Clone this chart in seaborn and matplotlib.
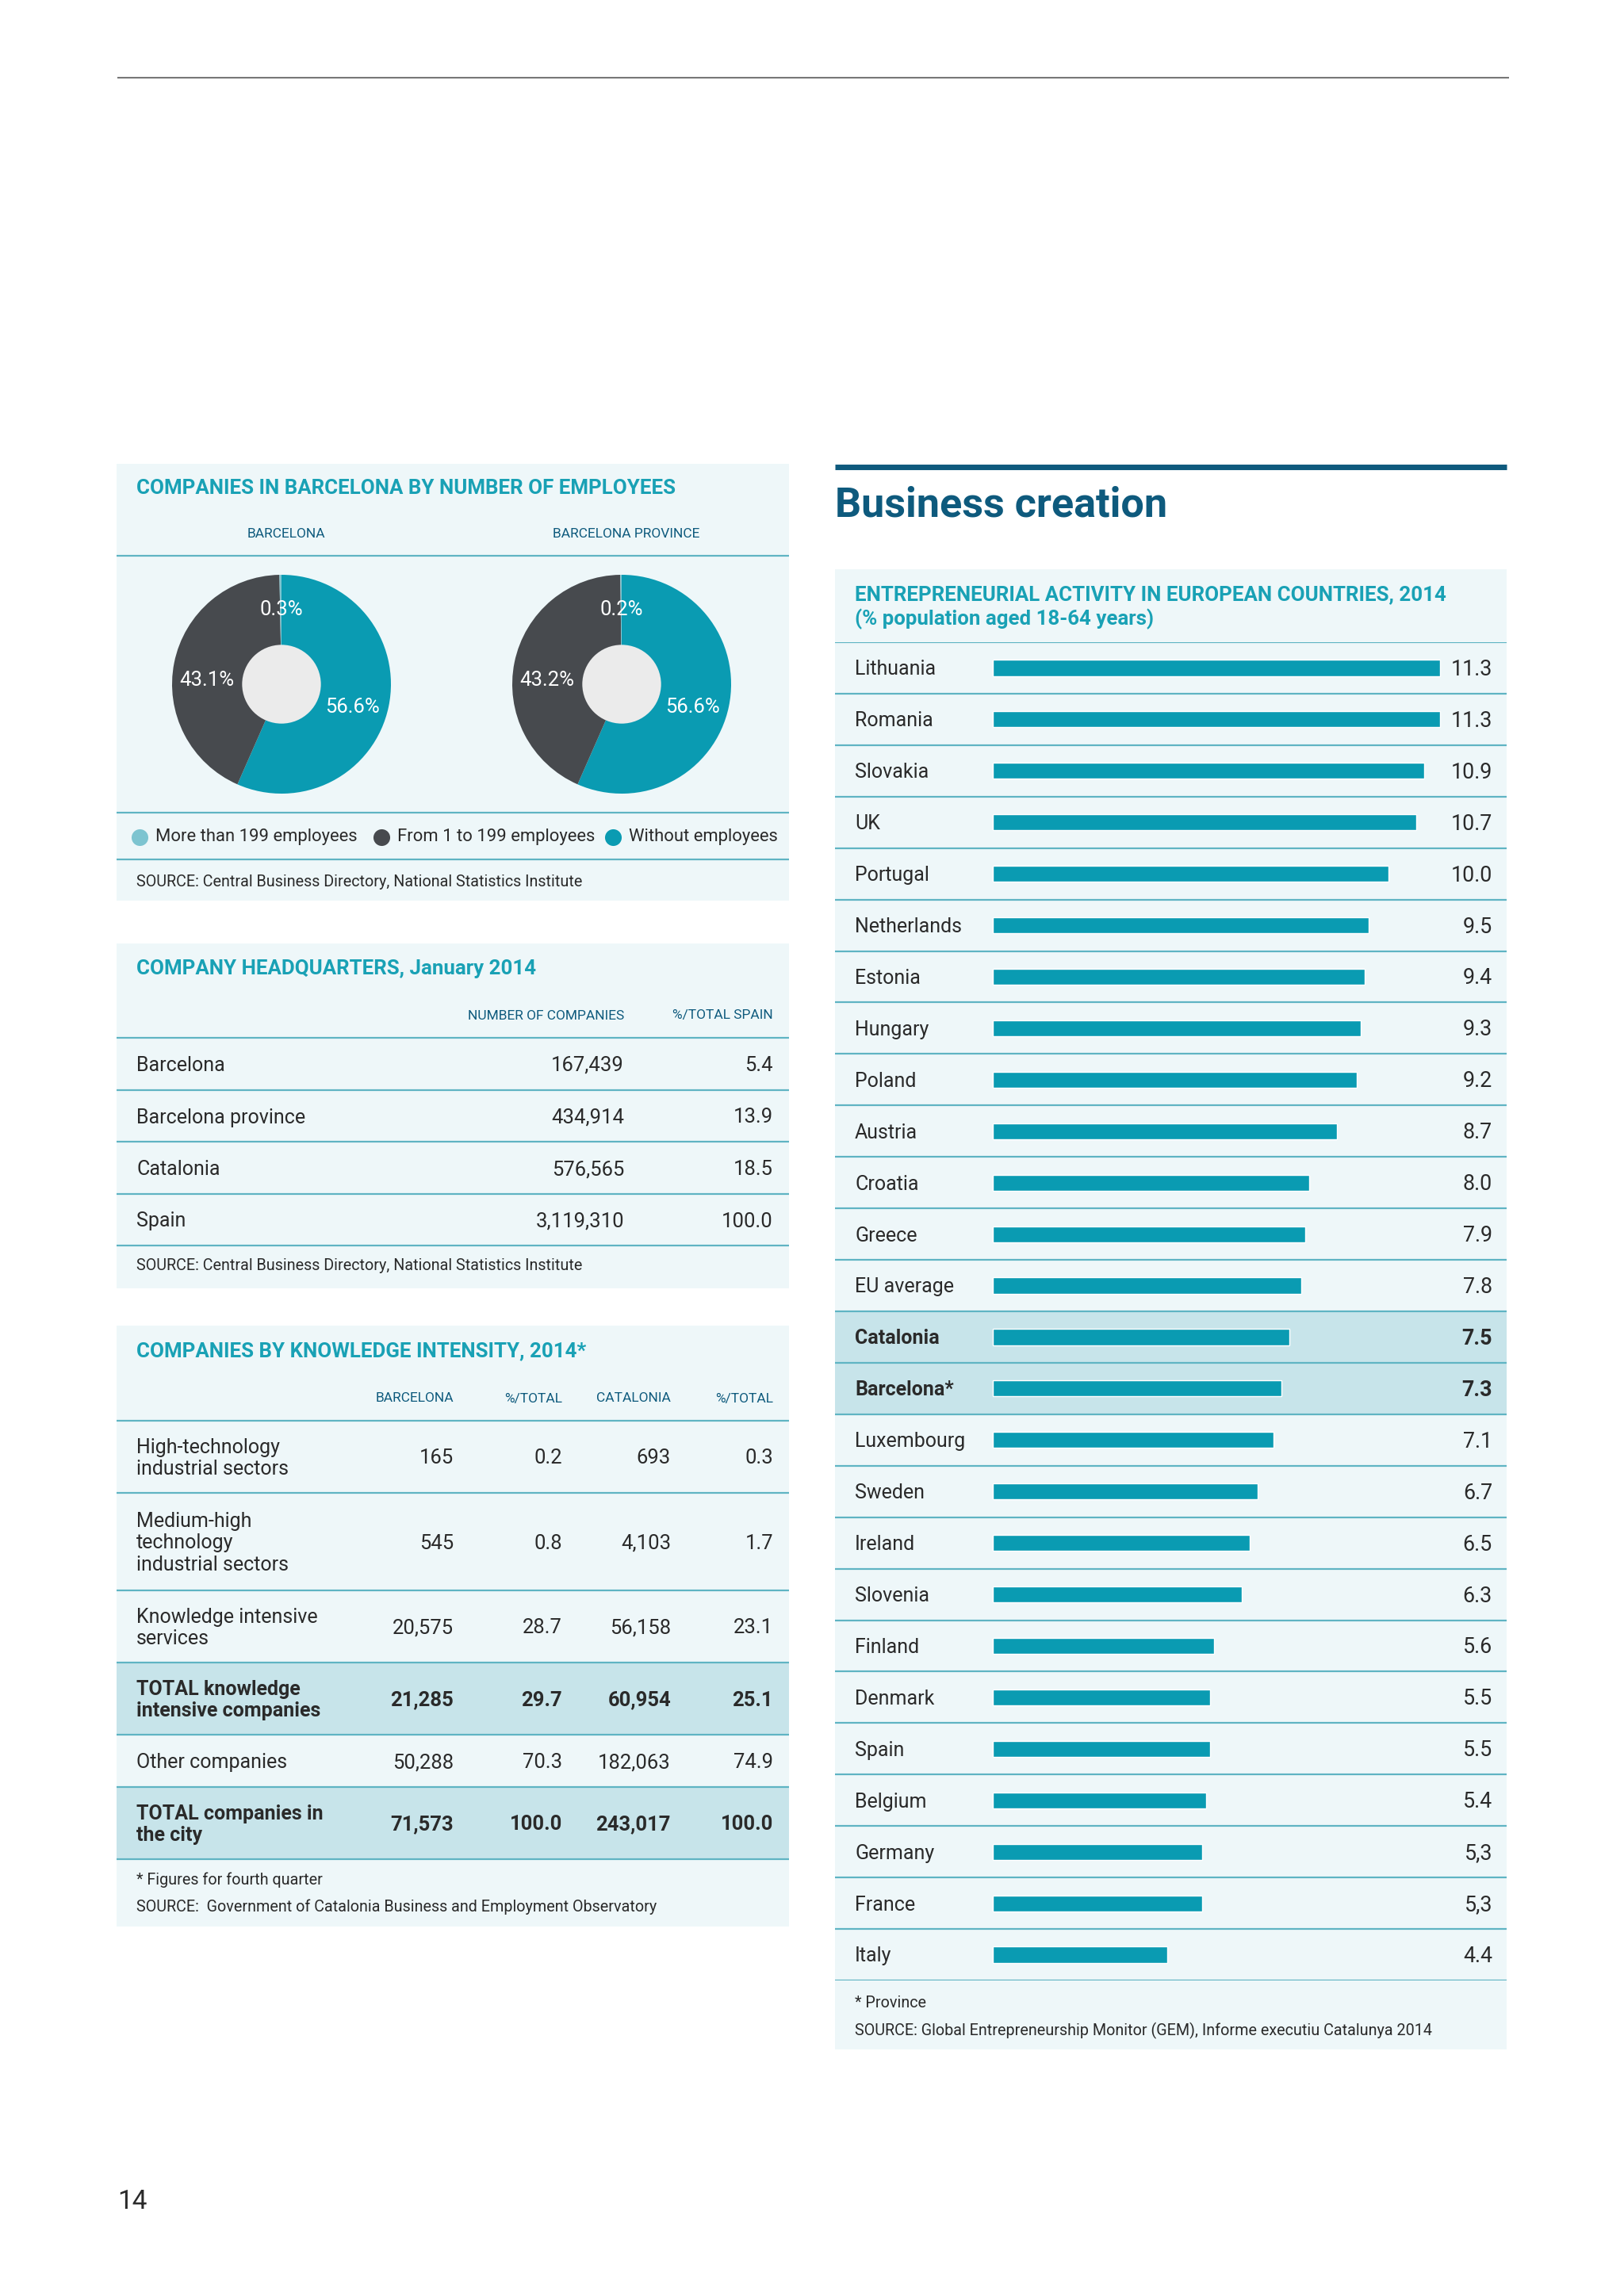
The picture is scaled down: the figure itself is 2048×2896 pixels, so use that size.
import matplotlib
matplotlib.use('Agg')
import matplotlib.pyplot as plt
from matplotlib import font_manager
from matplotlib.patches import Rectangle, Circle
import seaborn as sns
import pandas as pd
import numpy as np

# ---- data ----
pie_groups = ['BARCELONA', 'BARCELONA PROVINCE']
pie_labels = ['Without employees', 'From 1 to 199 employees', 'More than 199 employees']
pie_barcelona = [56.6, 43.1, 0.3]
pie_province = [56.6, 43.2, 0.2]

hq_regions = ['Barcelona', 'Barcelona province', 'Catalonia', 'Spain']
hq_companies = [167439, 434914, 576565, 3119310]
hq_share = [5.4, 13.9, 18.5, 100.0]

kn_sectors = ['High-technology\nindustrial sectors',
              'Medium-high\ntechnology\nindustrial sectors',
              'Knowledge intensive\nservices',
              'TOTAL knowledge\nintensive companies',
              'Other companies',
              'TOTAL companies in\nthe city']
kn_bcn = [165, 545, 20575, 21285, 50288, 71573]
kn_bcn_pct = [0.2, 0.8, 28.7, 29.7, 70.3, 100.0]
kn_cat = [693, 4103, 56158, 60954, 182063, 243017]
kn_cat_pct = [0.3, 1.7, 23.1, 25.1, 74.9, 100.0]
kn_is_total = [False, False, False, True, False, True]

countries = ['Lithuania', 'Romania', 'Slovakia', 'UK', 'Portugal', 'Netherlands',
             'Estonia', 'Hungary', 'Poland', 'Austria', 'Croatia', 'Greece',
             'EU average', 'Catalonia', 'Barcelona*', 'Luxembourg', 'Sweden',
             'Ireland', 'Slovenia', 'Finland', 'Denmark', 'Spain', 'Belgium',
             'Germany', 'France', 'Italy']
activity = [11.3, 11.3, 10.9, 10.7, 10.0, 9.5, 9.4, 9.3, 9.2, 8.7, 8.0, 7.9,
            7.8, 7.5, 7.3, 7.1, 6.7, 6.5, 6.3, 5.6, 5.5, 5.5, 5.4, 5.3, 5.3, 4.4]
activity_text = ['11.3', '11.3', '10.9', '10.7', '10.0', '9.5', '9.4', '9.3', '9.2',
                 '8.7', '8.0', '7.9', '7.8', '7.5', '7.3', '7.1', '6.7', '6.5', '6.3',
                 '5.6', '5.5', '5.5', '5.4', '5,3', '5,3', '4.4']
highlight = ['Catalonia', 'Barcelona*']

# ---- style ----
TEAL = '#0a9bb2'
DARK = '#474a4e'
LIGHT = '#7dc4d0'
HOLE = '#ebebeb'
PANEL = '#eef7f9'
HILITE = '#c7e4ea'
SEP = '#5fb4c3'
TITLE = '#19a1b5'
NAVY = '#0e5a7d'
INK = '#2a2a2a'

sns.set_theme(style='white')
plt.rcParams['font.family'] = ['Roboto', 'DejaVu Sans']

try:
    font_manager.findfont(font_manager.FontProperties(family='Liberation Sans Narrow'),
                          fallback_to_default=False)
    NUM_FONT = ['Liberation Sans Narrow', 'DejaVu Sans']
    num_scale = 1.0
except Exception:
    NUM_FONT = ['Roboto', 'DejaVu Sans']
    num_scale = 0.88

W, H = 2048, 2896
fig = plt.figure(figsize=(W / 100, H / 100), dpi=100)
fig.patch.set_facecolor('white')

bg = fig.add_axes([0, 0, 1, 1])
bg.set_xlim(0, W)
bg.set_ylim(H, 0)
bg.set_axis_off()


def frac(x0, y0, x1, y1):
    return [x0 / W, 1 - y1 / H, (x1 - x0) / W, (y1 - y0) / H]


def panel(x0, y0, x1, y1):
    bg.add_patch(Rectangle((x0, y0), x1 - x0, y1 - y0, color=PANEL, lw=0, zorder=0))


def hline(y, x0, x1, color=SEP, lw=1.6):
    bg.plot([x0, x1], [y, y], color=color, lw=lw, solid_capstyle='butt', zorder=2)


def num(x, y, s, bold=False, size=21):
    bg.text(x, y, s, ha='right', va='center', fontsize=size * num_scale,
            family=NUM_FONT, color=INK, fontweight='bold' if bold else 'normal', zorder=3)


# page rule and page number
hline(98, 148, 1903, color='#777777', lw=1.5)
bg.text(148, 2777, '14', fontsize=24, color=INK, va='center', ha='left')

L0, L1 = 147, 995
TX = 172
HEAD = 14.2  # column header size (before num_scale)
SRC = 14.2

# ---- panel 1: pies ----
panel(L0, 585, L1, 1136)
bg.text(TX, 616, 'COMPANIES IN BARCELONA BY NUMBER OF EMPLOYEES', fontsize=18.6,
        fontweight='bold', color=TITLE, va='center')
pie_cx = [355, 784]
pie_cy = 863
for cx, name in zip(pie_cx, pie_groups):
    bg.text(cx + 6, 674, name, fontsize=HEAD * num_scale, family=NUM_FONT, color=NAVY,
            ha='center', va='center')
hline(701, L0, L1)
hline(1025, L0, L1)
hline(1084, L0, L1)

pie_colors = [TEAL, DARK, LIGHT]
label_ang = [-18, 177, 90]
R = 138
for cx, vals in zip(pie_cx, [pie_barcelona, pie_province]):
    pax = fig.add_axes(frac(cx - R, pie_cy - R, cx + R, pie_cy + R))
    wedges, _ = pax.pie(vals, colors=pie_colors, startangle=90, counterclock=False,
                        radius=1, wedgeprops=dict(linewidth=0))
    pax.add_patch(Circle((0, 0), 0.36, color=HOLE, lw=0, zorder=5))
    pax.set_xlim(-1, 1)
    pax.set_ylim(-1, 1)
    pax.set_aspect('equal')
    pax.set_axis_off()
    for v, a in zip(vals, label_ang):
        ang = np.deg2rad(a)
        pax.text(0.68 * np.cos(ang), 0.68 * np.sin(ang), f'{v:.1f}%', color='white',
                 fontsize=21 * num_scale, family=NUM_FONT, ha='center', va='center',
                 zorder=6)

legend_x = [176, 481, 773]
for lx, lab, col in zip(legend_x, pie_labels[::-1], pie_colors[::-1]):
    bg.scatter([lx], [1056], s=230, color=col, zorder=3, linewidths=0)
    bg.text(lx + 20, 1056, lab, fontsize=15.8, color=INK, va='center', ha='left')
bg.text(TX, 1112, 'SOURCE: Central Business Directory, National Statistics Institute',
        fontsize=SRC, color=INK, va='center')

# ---- panel 2: headquarters ----
panel(L0, 1190, L1, 1625)
bg.text(TX, 1222, 'COMPANY HEADQUARTERS, January 2014', fontsize=18.6,
        fontweight='bold', color=TITLE, va='center')
bg.text(787, 1281, 'NUMBER OF COMPANIES', fontsize=HEAD * num_scale, family=NUM_FONT,
        color=NAVY, ha='right', va='center')
bg.text(975, 1281, '%/TOTAL SPAIN', fontsize=HEAD * num_scale, family=NUM_FONT,
        color=NAVY, ha='right', va='center')
hq_lines = [1309, 1375, 1440, 1506, 1571]
for y in hq_lines:
    hline(y, L0, L1)
for i, reg in enumerate(hq_regions):
    yc = (hq_lines[i] + hq_lines[i + 1]) / 2 + 2
    bg.text(TX, yc, reg, fontsize=18, color=INK, va='center')
    num(787, yc, f'{hq_companies[i]:,}')
    num(975, yc, f'{hq_share[i]:.1f}')
bg.text(TX, 1597, 'SOURCE: Central Business Directory, National Statistics Institute',
        fontsize=SRC, color=INK, va='center')

# ---- panel 3: knowledge intensity ----
panel(L0, 1672, L1, 2430)
bg.text(TX, 1704, 'COMPANIES BY KNOWLEDGE INTENSITY, 2014*', fontsize=18.6,
        fontweight='bold', color=TITLE, va='center')
col_x = [572, 709, 846, 975]
for x, h in zip(col_x, ['BARCELONA', '%/TOTAL', 'CATALONIA', '%/TOTAL']):
    bg.text(x, 1764, h, fontsize=HEAD * num_scale, family=NUM_FONT, color=NAVY,
            ha='right', va='center')
kn_lines = [1792, 1883, 2006, 2097, 2188, 2254, 2345]
for i in range(len(kn_sectors)):
    if kn_is_total[i]:
        bg.add_patch(Rectangle((L0, kn_lines[i]), L1 - L0, kn_lines[i + 1] - kn_lines[i],
                               color=HILITE, lw=0, zorder=1))
for y in kn_lines:
    hline(y, L0, L1)
for i, sec in enumerate(kn_sectors):
    yc = (kn_lines[i] + kn_lines[i + 1]) / 2 + 2
    b = kn_is_total[i]
    bg.text(TX, yc, sec, fontsize=18, color=INK, va='center', linespacing=1.2,
            fontweight='bold' if b else 'normal', zorder=3)
    num(col_x[0], yc, f'{kn_bcn[i]:,}', b)
    num(col_x[1], yc, f'{kn_bcn_pct[i]:.1f}', b)
    num(col_x[2], yc, f'{kn_cat[i]:,}', b)
    num(col_x[3], yc, f'{kn_cat_pct[i]:.1f}', b)
bg.text(TX, 2371, '* Figures for fourth quarter', fontsize=SRC, color=INK, va='center')
bg.text(TX, 2405, 'SOURCE:  Government of Catalonia Business and Employment Observatory',
        fontsize=SRC, color=INK, va='center')

# ---- right column: business creation ----
R0, R1 = 1053, 1900
bg.plot([R0, R1], [589, 589], color=NAVY, lw=5, solid_capstyle='butt')
bg.text(R0, 637, 'Business creation', fontsize=37.5, fontweight='bold', color=NAVY,
        va='center', ha='left')
panel(R0, 718, R1, 2585)
bg.text(1078, 750, 'ENTREPRENEURIAL ACTIVITY IN EUROPEAN COUNTRIES, 2014', fontsize=18.6,
        fontweight='bold', color=TITLE, va='center')
bg.text(1078, 781, '(% population aged 18-64 years)', fontsize=18.6,
        fontweight='bold', color=TITLE, va='center')
bg.text(1078, 2526, '* Province', fontsize=SRC, color=INK, va='center')
bg.text(1078, 2561, 'SOURCE: Global Entrepreneurship Monitor (GEM), Informe executiu Catalunya 2014',
        fontsize=SRC, color=INK, va='center')

rows_top, rows_bot = 810, 2498
bar_x0 = 1252
unit = 49.9
bax = fig.add_axes(frac(R0, rows_top, R1, rows_bot))
bax.set_facecolor('none')
df = pd.DataFrame({'country': countries, 'value': activity})
for i, c in enumerate(countries):
    if c in highlight:
        bax.axhspan(i - 0.5, i + 0.5, color=HILITE, lw=0, zorder=0)
sns.barplot(data=df, x='value', y='country', orient='h', color=TEAL, saturation=1,
            width=0.31, ax=bax, zorder=2)
for k in range(len(countries) + 1):
    bax.axhline(k - 0.5, color=SEP, lw=1.6, zorder=3)
bax.set_xlim(-(bar_x0 - R0) / unit, (R1 - bar_x0) / unit)
bax.set_ylim(len(countries) - 0.5, -0.5)
lab_x = (1078 - bar_x0) / unit
val_x = (1882 - bar_x0) / unit
for i, (c, t) in enumerate(zip(countries, activity_text)):
    b = c in highlight
    bax.text(lab_x, i + 0.03, c, fontsize=18, color=INK, va='center', ha='left',
             fontweight='bold' if b else 'normal')
    bax.text(val_x, i + 0.03, t, fontsize=22 * num_scale, family=NUM_FONT, color=INK,
             va='center', ha='right', fontweight='bold' if b else 'normal')
bax.set_axis_off()

fig.savefig('out.png', dpi=100, facecolor='white')
